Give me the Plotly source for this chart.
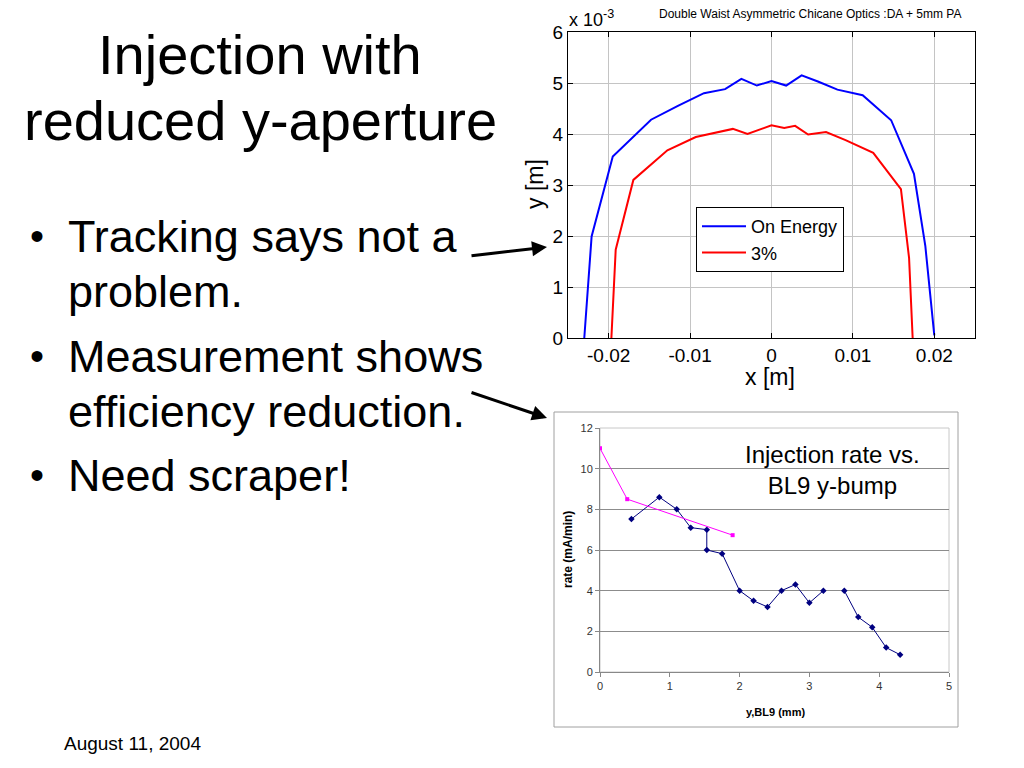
import plotly.graph_objects as go

# ---------------- data ----------------
# Top chart: dynamic aperture (y in units of 1e-3 m)
x_on_energy = [-0.0230, -0.0221, -0.0195, -0.0148, -0.0115, -0.0083, -0.0057, -0.0037, -0.0018, 0.0,
               0.0018, 0.0037, 0.0057, 0.0081, 0.0112, 0.0147, 0.0175, 0.0189, 0.0200]
y_on_energy = [0.0, 1.99, 3.56, 4.28, 4.55, 4.80, 4.88, 5.08, 4.95, 5.04,
               4.95, 5.15, 5.03, 4.87, 4.76, 4.27, 3.22, 1.80, 0.05]
x_3pct = [-0.01967, -0.01914, -0.01697, -0.01279, -0.0093, -0.0068, -0.00475, -0.00295, 0.0,
          0.00156, 0.0029, 0.0045, 0.0067, 0.0091, 0.0125, 0.0159, 0.0169, 0.01734]
y_3pct = [0.0, 1.73, 3.10, 3.68, 3.94, 4.03, 4.10, 4.00, 4.17,
          4.12, 4.16, 3.99, 4.04, 3.88, 3.63, 2.92, 1.57, 0.0]
top_xticks = [-0.02, -0.01, 0, 0.01, 0.02]
top_xticklabels = ["-0.02", "-0.01", "0", "0.01", "0.02"]
top_yticks = [0, 1, 2, 3, 4, 5, 6]

# Bottom chart: injection rate vs BL9 y-bump
bump_mm = [0.45, 0.85, 1.10, 1.30, 1.53, 1.53, 1.75, 2.0, 2.2, 2.4, 2.6, 2.8, 3.0, 3.2, None,
           3.5, 3.7, 3.9, 4.1, 4.3]
rate = [7.52, 8.6, 8.0, 7.1, 7.0, 6.0, 5.82, 4.0, 3.5, 3.2, 4.0, 4.3, 3.4, 4.0, None,
        4.0, 2.7, 2.2, 1.2, 0.85]
bump_mm_2 = [0.0, 0.39, 1.9]
rate_2 = [11.0, 8.5, 6.73]

FONT = "Liberation Sans, Arial, sans-serif"
W, H = 1024, 768


def px(x):
    return x / W


def py(y):
    return 1 - y / H


fig = go.Figure()

# top chart traces
fig.add_trace(go.Scatter(x=x_on_energy, y=y_on_energy, mode="lines", name="On Energy",
                         line=dict(color="#0000ff", width=2), xaxis="x", yaxis="y"))
fig.add_trace(go.Scatter(x=x_3pct, y=y_3pct, mode="lines", name="3%",
                         line=dict(color="#ff0000", width=2), xaxis="x", yaxis="y"))

# bottom chart traces
fig.add_trace(go.Scatter(x=bump_mm, y=rate, mode="lines+markers", showlegend=False,
                         line=dict(color="#000080", width=1),
                         marker=dict(symbol="diamond", size=5, color="#000080"),
                         connectgaps=False, xaxis="x2", yaxis="y2"))
fig.add_trace(go.Scatter(x=bump_mm_2, y=rate_2, mode="lines+markers", showlegend=False,
                         line=dict(color="#ff00ff", width=1),
                         marker=dict(symbol="square", size=4, color="#ff00ff"),
                         xaxis="x2", yaxis="y2"))

annotations = []


def text(t, x, y, size, xanchor="center", yanchor="middle", **kw):
    annotations.append(dict(text=t, x=px(x), y=py(y), xref="paper", yref="paper",
                            showarrow=False, xanchor=xanchor, yanchor=yanchor,
                            font=dict(family=FONT, size=size, color=kw.pop("color", "black")),
                            **kw))


# slide title
text("Injection with", 260, 54, 56)
text("reduced y-aperture", 260, 120, 56)

# bullets
bullet_lines = [
    ("Tracking says not a", 252, True),
    ("problem.", 308, False),
    ("Measurement shows", 372, True),
    ("efficiency reduction.", 427, False),
    ("Need scraper!", 491, True),
]
for t, base, has_bullet in bullet_lines:
    text(t, 66, base - 16, 45, xanchor="left")
    if has_bullet:
        text("•", 37, base - 16, 40)

text("August 11, 2004", 62, 743, 19, xanchor="left")

# top chart texts
text("Double Waist Asymmetric Chicane Optics :DA + 5mm PA", 810, 14, 12)
text("x 10<sup>-3</sup>", 567, 18, 18, xanchor="left")
text("x [m]", 770, 377, 23)
text("y [m]", 535, 184, 23, textangle=-90)

# bottom chart texts
text("Injection rate vs.<br>BL9 y-bump", 832, 470, 24)
text("<b>rate (mA/min)</b>", 568, 550, 12, textangle=-90)
text("<b>y,BL9 (mm)</b>", 775, 712, 11)

# arrows
for tip, tail in [((547, 247), (470, 256)), ((547, 418), (470, 392))]:
    annotations.append(dict(text="", x=px(tip[0]), y=py(tip[1]), xref="paper", yref="paper",
                            showarrow=True, ax=tail[0] - tip[0], ay=tail[1] - tip[1],
                            axref="pixel", ayref="pixel", arrowhead=2, arrowsize=1,
                            arrowwidth=3, arrowcolor="black", standoff=0))

shapes = [
    dict(type="rect", xref="paper", yref="paper", x0=px(554), x1=px(958), y0=py(727), y1=py(412),
         line=dict(color="#a0a0a0", width=1), layer="below"),
    dict(type="rect", xref="x2 domain", yref="y2 domain", x0=0, x1=1, y0=0, y1=1,
         line=dict(color="#c8c8c8", width=1), layer="below"),
]

tickfont_top = dict(family=FONT, size=19, color="black")
tickfont_bot = dict(family=FONT, size=11, color="#333333")

fig.update_layout(
    width=W, height=H, autosize=False,
    margin=dict(l=0, r=0, t=0, b=0, pad=0, autoexpand=False),
    paper_bgcolor="white", plot_bgcolor="white",
    font=dict(family=FONT, color="black"),
    annotations=annotations, shapes=shapes,
    legend=dict(x=px(696), y=py(207), xanchor="left", yanchor="top",
                bgcolor="white", bordercolor="black", borderwidth=1,
                font=dict(family=FONT, size=18, color="black"),
                tracegroupgap=0, itemwidth=44),
    xaxis=dict(domain=[px(568), px(975)], range=[-0.025, 0.025],
               tickvals=top_xticks, ticktext=top_xticklabels,
               ticks="inside", ticklen=5, tickcolor="black",
               showline=True, linecolor="black", linewidth=1, mirror="ticks",
               showgrid=True, gridcolor="#c4c4c4", gridwidth=1, zeroline=False,
               tickfont=tickfont_top, anchor="y", automargin=False),
    yaxis=dict(domain=[py(338), py(32)], range=[0, 6],
               tickvals=top_yticks, ticks="inside", ticklen=5, tickcolor="black",
               showline=True, linecolor="black", linewidth=1, mirror="ticks",
               showgrid=True, gridcolor="#c4c4c4", gridwidth=1, zeroline=False,
               tickfont=tickfont_top, anchor="x", automargin=False),
    xaxis2=dict(domain=[px(600), px(949)], range=[0, 5], dtick=1,
                ticks="outside", ticklen=4, tickcolor="#888888",
                showline=True, linecolor="#888888", linewidth=1,
                showgrid=False, zeroline=False, tickfont=tickfont_bot, anchor="y2",
                automargin=False),
    yaxis2=dict(domain=[py(672), py(428)], range=[0, 12], dtick=2,
                ticks="outside", ticklen=4, tickcolor="#888888",
                showline=True, linecolor="#888888", linewidth=1,
                showgrid=True, gridcolor="#8c8c8c", gridwidth=1, zeroline=False,
                tickfont=tickfont_bot, anchor="x2", automargin=False),
)

fig.write_html("out.html", config={"displayModeBar": False},
               post_script="document.body.style.margin='0px';document.body.style.overflow='hidden';")
